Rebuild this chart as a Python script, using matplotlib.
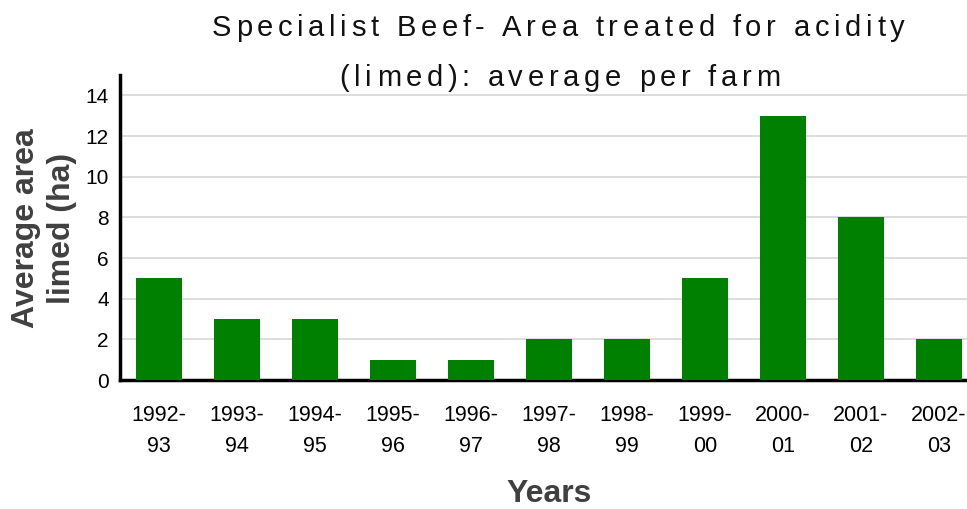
import matplotlib
matplotlib.use("Agg")
import matplotlib.pyplot as plt
from matplotlib import font_manager

categories = ["1992-\n93", "1993-\n94", "1994-\n95", "1995-\n96", "1996-\n97", "1997-\n98",
              "1998-\n99", "1999-\n00", "2000-\n01", "2001-\n02", "2002-\n03"]
values = [5, 3, 3, 1, 1, 2, 2, 5, 13, 8, 2]
yticks = [0, 2, 4, 6, 8, 10, 12, 14]
title_lines = ["Specialist Beef- Area treated for acidity", "(limed): average per farm"]

plt.rcParams['font.family'] = ['Liberation Sans', 'DejaVu Sans']

installed = {f.name for f in font_manager.fontManager.ttflist}
title_family = "Liberation Sans Narrow" if "Liberation Sans Narrow" in installed else "Liberation Sans"

W, H = 967, 509
fig = plt.figure(figsize=(W / 100, H / 100), dpi=100)
ax = fig.add_axes([120 / W, 1 - 380 / H, (978 - 120) / W, (380 - 75) / H])

x = list(range(len(categories)))
ax.bar(x, values, width=0.59, color="#008000", zorder=3)
ax.set_xlim(-0.5, len(categories) - 0.5)
ax.set_ylim(0, 15)
ax.set_yticks(yticks)
ax.set_yticklabels([str(t) for t in yticks], fontsize=15)
ax.set_xticks(x)
ax.set_xticklabels(categories, fontsize=15.5, linespacing=1.62)
ax.tick_params(axis="both", length=0, colors="#000000")
ax.tick_params(axis="x", pad=18)
ax.tick_params(axis="y", pad=8)
ax.yaxis.grid(True, color="#d9d9d9", linewidth=1.3, zorder=0)
ax.set_axisbelow(True)
for s in ["top", "right"]:
    ax.spines[s].set_visible(False)
for s in ["left", "bottom"]:
    ax.spines[s].set_linewidth(2.5)
    ax.spines[s].set_color("black")

# letter-spaced title
renderer = fig.canvas.get_renderer()
tfont = dict(fontsize=21, family=title_family, color="#111111")

def char_widths(s):
    ws = []
    for ch in s:
        if ch == " ":
            t = fig.text(0, 0, "a a", **tfont)
            t2 = fig.text(0, 0, "aa", **tfont)
            w = t.get_window_extent(renderer).width - t2.get_window_extent(renderer).width
            t.remove(); t2.remove()
        else:
            t = fig.text(0, 0, ch, **tfont)
            w = t.get_window_extent(renderer).width
            t.remove()
        ws.append(w)
    return ws

w1 = char_widths(title_lines[0])
target1 = 693.0
tracking = (target1 - sum(w1)) / (len(w1) - 1)

def draw_tracked(s, cx, cy):
    ws = char_widths(s)
    total = sum(ws) + tracking * (len(ws) - 1)
    xpos = cx - total / 2
    for ch, w in zip(s, ws):
        if ch != " ":
            fig.text(xpos / W, 1 - cy / H, ch, ha="left", va="center", **tfont)
        xpos += w + tracking

draw_tracked(title_lines[0], 558, 28)
draw_tracked(title_lines[1], 560, 78)

fig.text(44 / W, 1 - 228 / H, "Average area\nlimed (ha)", rotation=90,
         ha="center", va="center", fontsize=23, fontweight="bold", color="#404040",
         linespacing=1.25)
fig.text(549 / W, 1 - 494 / H, "Years", ha="center", va="center",
         fontsize=23, fontweight="bold", color="#404040")

fig.savefig("out.png", dpi=100)
